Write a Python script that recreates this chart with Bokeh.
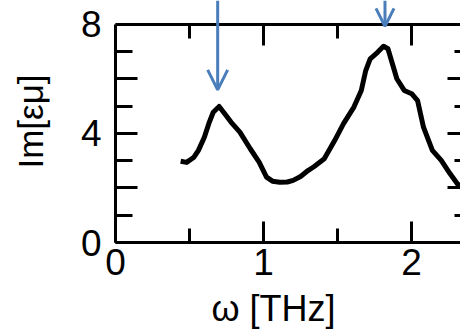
from bokeh.plotting import figure
from bokeh.models import LinearAxis, FixedTicker, Range1d, Arrow, OpenHead, Title
from bokeh.embed import file_html
from bokeh.resources import INLINE

# ---- data ----
freq_thz = [0.44, 0.48, 0.53, 0.56, 0.60, 0.63, 0.66, 0.70, 0.73, 0.78, 0.84, 0.91,
            0.97, 1.02, 1.06, 1.11, 1.16, 1.20, 1.25, 1.30, 1.34, 1.41, 1.48, 1.54,
            1.61, 1.66, 1.69, 1.72, 1.77, 1.81, 1.84, 1.87, 1.90, 1.95, 2.00, 2.04,
            2.08, 2.14, 2.20, 2.26, 2.31, 2.34]
im_eps_mu = [2.98, 2.94, 3.13, 3.38, 3.86, 4.36, 4.78, 4.99, 4.78, 4.42, 4.05, 3.44,
             2.95, 2.40, 2.25, 2.21, 2.22, 2.28, 2.42, 2.64, 2.78, 3.07, 3.74, 4.36,
             4.97, 5.58, 6.31, 6.74, 6.98, 7.20, 7.11, 6.56, 6.01, 5.58, 5.46, 5.21,
             4.23, 3.38, 3.01, 2.52, 2.15, 2.00]
arrow_x = [0.69, 1.82]
arrow_tip = [5.6, 7.93]
x_ticks = [0, 1, 2]
x_minor = [0.5, 1.5, 2.5]
y_ticks = [0, 2, 4, 6, 8]
y_minor = [1, 3, 5, 7]
y_labels = {0: "0", 2: "", 4: "4", 6: "", 8: "8"}
y_top = 8.88   # visible area above the axis box, where the arrows start

FONT = "Liberation Sans"
BLUE = "#4A7EBB"

p = figure(width=460, height=336, output_backend="svg", toolbar_location=None,
           x_range=Range1d(0, 2.33), y_range=Range1d(0, y_top),
           x_axis_location=None, y_axis_location=None,
           min_border_left=115, min_border_right=0, min_border_top=0,
           min_border_bottom=94)
p.outline_line_color = None
p.grid.visible = False
p.background_fill_color = "white"
p.border_fill_color = "white"


def style(ax, ticks, minor, major_len, minor_len):
    ax.ticker = FixedTicker(ticks=ticks, minor_ticks=minor)
    ax.axis_line_width = 3
    ax.axis_line_color = "black"
    ax.major_tick_in = major_len
    ax.major_tick_out = 0
    ax.minor_tick_in = minor_len
    ax.minor_tick_out = 0
    ax.major_tick_line_width = 3
    ax.minor_tick_line_width = 3
    ax.major_label_text_font = FONT
    ax.major_label_text_font_size = "37px"
    ax.major_label_text_color = "black"


bottom = LinearAxis()
style(bottom, x_ticks, x_minor, 21, 14)
bottom.major_label_standoff = 6
p.add_layout(bottom, "below")

left = LinearAxis(bounds=(0, 8))
style(left, y_ticks, y_minor, 22, 17)
left.major_label_overrides = y_labels
left.major_label_standoff = 14
left.axis_label = "Im[εμ]"
left.axis_label_text_font = FONT
left.axis_label_text_font_size = "35px"
left.axis_label_text_font_style = "normal"
left.axis_label_text_color = "black"
left.axis_label_standoff = 28
p.add_layout(left, "left")

top = LinearAxis(fixed_location=8)
style(top, x_ticks, x_minor, 21, 14)
top.major_label_text_font_size = "0px"
top.major_label_standoff = 0
p.add_layout(top, "above")

right = LinearAxis(bounds=(0, 8))
style(right, y_ticks, y_minor, 13, 6)
right.axis_line_color = None
right.major_label_text_font_size = "0px"
right.major_label_standoff = 0
p.add_layout(right, "right")

xtitle = Title(text="ω [THz]", align="left", offset=96, text_font=FONT,
               text_font_size="36px", text_font_style="normal", text_color="black",
               standoff=16)
p.add_layout(xtitle, "below")

p.line(freq_thz, im_eps_mu, line_color="black", line_width=5, line_join="round")

for xa, tip, hs in zip(arrow_x, arrow_tip, [20, 18]):
    p.add_layout(Arrow(x_start=xa, y_start=y_top, x_end=xa, y_end=tip,
                       line_color=BLUE, line_width=3,
                       end=OpenHead(size=hs, line_color=BLUE, line_width=3)))

open("out.html", "w").write(file_html(p, INLINE))
